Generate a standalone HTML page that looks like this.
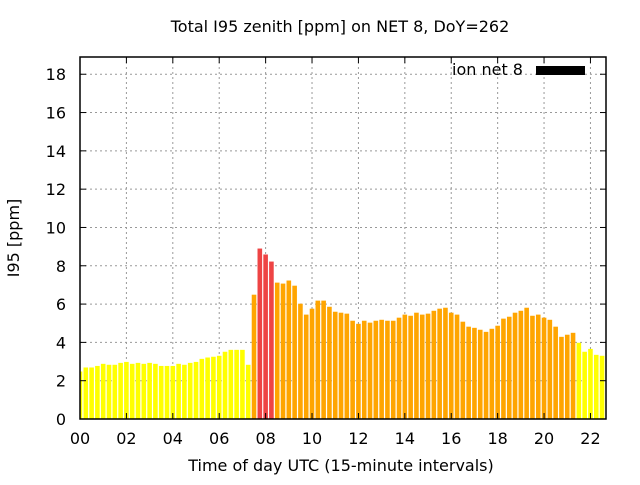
<!DOCTYPE html>
<html><head><meta charset="utf-8"><style>
body{margin:0;background:#fff;}
svg text{font-family:"DejaVu Sans","Liberation Sans",sans-serif;font-size:16px;fill:#000;}
</style></head><body>
<svg id="chart" width="640" height="480" xmlns="http://www.w3.org/2000/svg">
<rect width="640" height="480" fill="#fff"/>
<g id="grid"></g><g id="bars"></g><g id="axes"></g>
<text x="340" y="32" text-anchor="middle">Total I95 zenith [ppm] on NET 8, DoY=262</text>
<text x="0" y="0" text-anchor="middle" transform="translate(19,238) rotate(-90)">I95 [ppm]</text>
<text x="341" y="471" text-anchor="middle">Time of day UTC (15-minute intervals)</text>
<g>
<text x="452" y="75">ion net 8</text>
<rect x="536" y="66" width="49" height="9" fill="#000"/>
</g>
</svg>
<script>
const yTicks=[0,2,4,6,8,10,12,14,16,18];
const xTicks=[0,2,4,6,8,10,12,14,16,18,20,22];
const xTickLabels=["00","02","04","06","08","10","12","14","16","18","20","22"];
const values=[2.48,2.69,2.69,2.77,2.88,2.83,2.83,2.93,2.98,2.88,2.93,2.88,2.93,2.88,2.77,2.77,
2.77,2.88,2.83,2.93,2.98,3.14,3.21,3.25,3.30,3.51,3.61,3.61,3.61,2.83,6.49,8.90,
8.59,8.22,7.12,7.07,7.23,6.96,6.02,5.45,5.76,6.18,6.18,5.86,5.60,5.55,5.50,5.13,
4.97,5.13,5.03,5.13,5.18,5.13,5.13,5.29,5.45,5.39,5.55,5.45,5.50,5.65,5.76,5.81,
5.55,5.45,5.08,4.82,4.76,4.66,4.55,4.71,4.87,5.24,5.34,5.55,5.65,5.81,5.39,5.45,
5.29,5.18,4.82,4.29,4.40,4.50,3.98,3.51,3.66,3.35,3.30,3.35];
const L=80,R=606,T=57,B=419,XMAX=22.67,YMAX=18.9;
const NS="http://www.w3.org/2000/svg";
function xs(h){return L+h/XMAX*(R-L);}
function ys(v){return B-v/YMAX*(B-T);}
function mk(tag,attrs,parent){const e=document.createElementNS(NS,tag);for(const k in attrs)e.setAttribute(k,attrs[k]);parent.appendChild(e);return e;}
const grid=document.getElementById('grid'),bars=document.getElementById('bars'),axes=document.getElementById('axes');
yTicks.forEach(v=>{const y=ys(v);
 if(v>0){const g=mk('line',{x1:L,x2:R,y1:y,y2:y,stroke:'#999','stroke-dasharray':'2,3'},grid);
 
 }
 mk('line',{x1:L,x2:L+6,y1:y,y2:y,stroke:'#000'},axes);
 mk('line',{x1:R,x2:R-6,y1:y,y2:y,stroke:'#000'},axes);
 const t=mk('text',{x:66,y:y+6,'text-anchor':'end'},axes);t.textContent=v;
 
 
});
xTicks.forEach((h,i)=>{const x=xs(h);
 if(h>0){const g=mk('line',{x1:x,x2:x,y1:T,y2:B,stroke:'#999','stroke-dasharray':'2,3'},grid);
 
 }
 mk('line',{x1:x,x2:x,y1:B,y2:B-6,stroke:'#000'},axes);
 mk('line',{x1:x,x2:x,y1:T,y2:T+6,stroke:'#000'},axes);
 const t=mk('text',{x:x,y:444,'text-anchor':'middle'},axes);t.textContent=xTickLabels[i];
 
 
});
const cp=mk('clipPath',{id:'clip'},bars);mk('rect',{x:L,y:T,width:R-L,height:B-T},cp);
const bg=mk('g',{'clip-path':'url(#clip)'},bars);
values.forEach((v,i)=>{const c=xs(i*0.25);const y=ys(v);
 const col=v>8?'#ee4444':(v>=4?'#ffa500':'#ffff00');
 const r=mk('rect',{x:c-2.3,y:y,width:4.6,height:B-y,fill:col},bg);
 
 
});
const frame=mk('rect',{x:L,y:T,width:R-L,height:B-T,fill:'none',stroke:'#000','stroke-width':1.5},axes);


</script>
</body></html>
